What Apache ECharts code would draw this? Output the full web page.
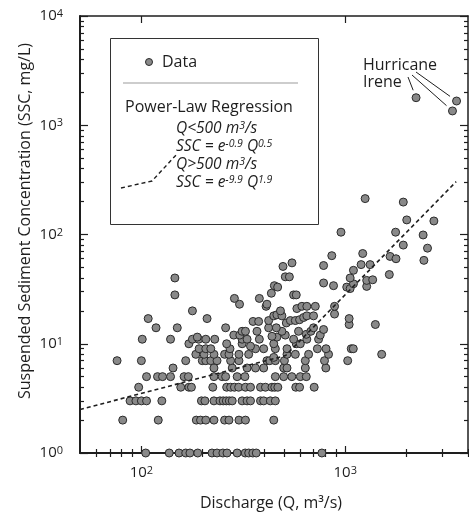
<!DOCTYPE html>
<html>
<head>
<meta charset="utf-8">
<script src="https://cdn.jsdelivr.net/npm/echarts@6/dist/echarts.min.js"></script>
<style>
  html, body { margin: 0; padding: 0; background: #fff; }
  #chart { width: 469px; height: 513px; }
</style>
</head>
<body>
<div id="chart"></div>
<script>
// SSC values that fall on whole mg/L rows, with the discharges on each row
const levelSSC = [1, 2, 3, 4, 5, 6, 7, 8, 9, 10, 11]
const levelQ = [
  [105, 137, 153, 165, 173, 189, 222, 235, 251, 263, 295, 323, 336, 352, 366, 768],
  [81, 121, 186, 195, 207, 227, 256, 269, 301, 324, 446],
  [88, 94, 100, 106, 126, 197, 205, 227, 243, 252, 261, 270, 279, 312, 330, 343, 384, 398, 429, 454],
  [97, 156, 171, 176, 224, 262, 274, 286, 300, 324, 343, 384, 406, 437, 451, 467, 572, 597, 704],
  [106, 120, 127, 139, 162, 170, 227, 249, 259, 295, 322, 454, 499, 547, 602, 644],
  [143, 227, 279, 330, 363, 398, 499, 518, 637, 803],
  [76, 100, 165, 199, 207, 219, 235, 274, 301, 413, 426, 454, 503, 637, 791, 1028],
  [185, 203, 227, 256, 269, 301, 336, 518, 569, 661, 828, 1509],
  [192, 207, 219, 272, 363, 398, 454, 518, 730, 805, 1070, 1095],
  [171, 262, 312, 446, 575, 602],
  [101, 139, 178, 191, 207, 229, 312, 330, 379, 558, 648, 740]
]

// the remaining samples
const freeQ = [
  446, 343,
  188, 462, 437, 508, 644, 284, 304, 754,
  312, 324, 369, 489, 590, 678, 783,
  118, 150, 259, 421, 459, 699,
  514, 353, 376, 421, 538, 569, 597, 1045, 1405,
  108, 210, 446, 462, 489, 625, 648, 699, 1045, 886,
  178, 481, 579, 613, 648, 713, 409, 886,
  303, 413, 286, 379, 558, 575, 146, 434,
  449, 466, 783, 876, 1017, 1057, 1274, 1097, 1274, 1363, 1057, 146, 508, 532,
  1645, 1097, 495, 548, 783, 1196, 1324, 859, 1218, 1659, 1774, 2431,
  2532, 1926, 2410, 953, 1766, 2003, 2721, 1926, 1252
]
const freeSSC = [
  7.5, 9.5,
  11.5, 11.5, 11.7, 12, 12.2, 12, 12, 12,
  13, 13, 13, 13, 13, 13, 13.5,
  14, 14, 14, 14, 14, 14,
  15.5, 16, 16, 16.3, 16.3, 16.3, 16.6, 15, 15,
  17, 17, 18, 18.4, 18, 17.4, 18, 18, 17, 18.7,
  20, 20, 21, 22, 22, 22, 22, 22,
  23, 23, 26, 26, 28, 28, 28, 29,
  34, 33, 36, 34, 33, 32, 33.5, 35.4, 38, 38.5, 40, 40, 41, 41,
  43, 47, 51, 55, 52, 53, 53, 64, 67, 63, 60, 58,
  75, 80, 99, 105, 105, 136, 133, 198, 213
]

// Hurricane Irene samples
const ireneQ = [2225, 3515, 3357]
const ireneSSC = [1787, 1667, 1352]

// dashed power-law regression
const fitQ = [50, 510, 3500]
const fitSSC = [2.5, 7.8, 305]

const xRange = [50, 4000]
const yRange = [1, 10000]
const xMajor = [100, 1000]
const xMinor = [60, 70, 80, 90, 200, 300, 400, 500, 600, 700, 800, 900, 2000, 3000, 4000]
const yMajor = [1, 10, 100, 1000, 10000]
const yMinor = [2, 3, 4, 5, 6, 7, 8, 9, 20, 30, 40, 50, 60, 70, 80, 90,
  200, 300, 400, 500, 600, 700, 800, 900, 2000, 3000, 4000, 5000, 6000, 7000, 8000, 9000]

const L = Math.log10
const FONT = '"Open Sans", "Noto Sans", sans-serif'
const INK = '#1e1e1e'

const points = []
levelQ.forEach((row, i) => row.forEach(q => points.push([L(q), L(levelSSC[i])])))
freeQ.forEach((q, i) => points.push([L(q), L(freeSSC[i])]))
const irene = ireneQ.map((q, i) => [L(q), L(ireneSSC[i])])
const fit = fitQ.map((q, i) => [L(q), L(fitSSC[i])])

const grid = { left: 80, top: 16, right: 1, bottom: 60 }
const supRich = {
  b: { fontSize: 15, fontFamily: FONT, color: INK },
  s: { fontSize: 11, fontFamily: FONT, color: INK, verticalAlign: 'top' }
}
const powLabel = v => `{b|10}{s|${Math.round(v)}}`

function axis(kind, gridIndex, position, ticks, len, opts) {
  return Object.assign({
    type: 'value',
    gridIndex,
    position,
    min: kind === 'x' ? L(xRange[0]) : L(yRange[0]),
    max: kind === 'x' ? L(xRange[1]) : L(yRange[1]),
    splitLine: { show: false },
    axisLine: { show: false },
    axisTick: { show: true, inside: true, length: len, customValues: ticks.map(L), lineStyle: { color: INK, width: 1.2 } },
    axisLabel: { show: false }
  }, opts || {})
}

const line = w => ({ show: true, onZero: false, lineStyle: { color: INK, width: w } })

const option = {
  backgroundColor: '#fff',
  animation: false,
  grid: [grid, grid, grid, grid],
  xAxis: [
    axis('x', 0, 'bottom', xMajor, 7, {
      axisLine: line(2),
      axisLabel: { show: true, customValues: xMajor.map(L), margin: 12, formatter: powLabel, rich: supRich }
    }),
    axis('x', 1, 'bottom', xMinor, 4),
    axis('x', 2, 'top', xMajor, 7, { axisLine: line(1.5) }),
    axis('x', 3, 'top', xMinor, 4)
  ],
  yAxis: [
    axis('y', 0, 'left', yMajor, 8, {
      axisLine: line(2),
      axisLabel: { show: true, customValues: yMajor.map(L), margin: 17, formatter: powLabel, rich: supRich }
    }),
    axis('y', 1, 'left', yMinor, 4),
    axis('y', 2, 'right', yMajor, 8, { axisLine: line(1.5) }),
    axis('y', 3, 'right', yMinor, 4)
  ],
  series: [
    {
      type: 'scatter', xAxisIndex: 0, yAxisIndex: 0, z: 3,
      symbolSize: 8,
      itemStyle: { color: '#898989', borderColor: '#2b2b2b', borderWidth: 1, opacity: 1 },
      data: points
    },
    {
      type: 'scatter', xAxisIndex: 0, yAxisIndex: 0, z: 3,
      symbolSize: 8,
      itemStyle: { color: '#898989', borderColor: '#2b2b2b', borderWidth: 1, opacity: 1 },
      data: irene
    },
    {
      type: 'line', xAxisIndex: 0, yAxisIndex: 0, z: 4,
      symbol: 'none', silent: true,
      lineStyle: { color: INK, width: 1.6, type: [4, 3] },
      data: fit
    }
  ],
  graphic: [
    {
      type: 'text', x: 25, y: 221, rotation: Math.PI / 2,
      style: { text: 'Suspended Sediment Concentration (SSC, mg/L)', font: `16px ${FONT}`, fill: INK, align: 'center', verticalAlign: 'middle' }
    },
    {
      type: 'text', x: 271, y: 503,
      style: { text: 'Discharge (Q, m³/s)', font: `16px ${FONT}`, fill: INK, align: 'center', verticalAlign: 'middle' }
    },
    {
      type: 'rect', z: 10,
      shape: { x: 110.5, y: 38.5, width: 208, height: 186 },
      style: { fill: '#fff', stroke: '#333', lineWidth: 1 }
    },
    { type: 'circle', z: 11, shape: { cx: 149, cy: 62, r: 3.5 }, style: { fill: '#898989', stroke: '#2b2b2b', lineWidth: 1 } },
    { type: 'text', z: 11, x: 162, y: 62, style: { text: 'Data', font: `16px ${FONT}`, fill: INK, verticalAlign: 'middle' } },
    { type: 'line', z: 11, shape: { x1: 123, y1: 83, x2: 298, y2: 83 }, style: { stroke: '#bdbdbd', lineWidth: 1.5 } },
    { type: 'text', z: 11, x: 125, y: 107, style: { text: 'Power-Law Regression', font: `16px ${FONT}`, fill: INK, verticalAlign: 'middle' } },
    {
      type: 'polyline', z: 11,
      shape: { points: [[121, 188], [152, 181], [177, 154]] },
      style: { stroke: INK, lineWidth: 1.4, lineDash: [4, 3], fill: null }
    },
    ...[
      ['{i|Q<500 m}{s|3}{i|/s}', 129],
      ['{i|SSC = e}{s|-0.9}{i| Q}{s|0.5}', 147],
      ['{i|Q>500 m}{s|3}{i|/s}', 165],
      ['{i|SSC = e}{s|-9.9}{i| Q}{s|1.9}', 183]
    ].map(([t, y]) => ({
      type: 'text', z: 11, x: 176, y,
      style: {
        text: t, verticalAlign: 'middle',
        rich: {
          i: { fontSize: 15.5, fontStyle: 'italic', fontFamily: FONT, fill: INK },
          s: { fontSize: 10.5, fontStyle: 'italic', fontFamily: FONT, fill: INK, verticalAlign: 'top' }
        }
      }
    })),
    { type: 'text', x: 363, y: 65, style: { text: 'Hurricane', font: `16px ${FONT}`, fill: INK, verticalAlign: 'middle' } },
    { type: 'text', x: 363, y: 82, style: { text: 'Irene', font: `16px ${FONT}`, fill: INK, verticalAlign: 'middle' } }
  ]
}

const chart = echarts.init(document.getElementById('chart'))
chart.setOption(option)

// leader lines from the "Irene" label to its three samples
const leaderStart = [[408, 77], [416, 72], [412, 75]]
const leaders = irene.map((p, i) => {
  const [px, py] = chart.convertToPixel({ gridIndex: 0 }, p)
  const [sx, sy] = leaderStart[i]
  const d = Math.hypot(px - sx, py - sy)
  const k = (d - 8) / d
  return {
    type: 'line', id: 'leader' + i,
    shape: { x1: sx, y1: sy, x2: sx + (px - sx) * k, y2: sy + (py - sy) * k },
    style: { stroke: INK, lineWidth: 1 }
  }
})
chart.setOption({ graphic: option.graphic.concat(leaders) })
</script>
</body>
</html>
